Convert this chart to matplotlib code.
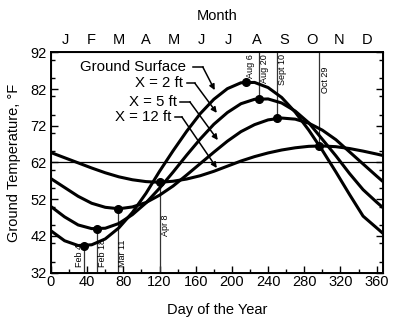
import matplotlib.pyplot as plt
from matplotlib.ticker import MultipleLocator

plt.rcParams['font.family'] = ['Liberation Sans', 'DejaVu Sans']

days = [0, 15, 30, 45, 60, 75, 90, 105, 120, 135, 150, 165, 180,
        195, 210, 225, 240, 255, 270, 285, 300, 315, 330, 345, 360, 367]

surface = [43.4, 40.7, 39.4, 39.6, 41.2, 44.2, 48.4, 53.6, 59.6, 65.2, 70.5, 75.3, 79.2,
           82.1, 83.7, 83.8, 82.4, 79.7, 75.7, 70.8, 65.3, 59.4, 53.3, 47.4, 44.2, 42.7]
x2ft = [50.0, 47.2, 45.0, 44.0, 44.1, 45.4, 47.8, 51.0, 55.0, 59.4, 64.0, 68.4, 72.4,
        75.6, 78.0, 79.2, 79.3, 78.2, 76.0, 72.8, 68.3, 63.8, 59.0, 54.6, 51.2, 49.7]
x5ft = [57.6, 55.2, 52.8, 50.9, 49.8, 49.4, 49.9, 51.1, 53.1, 55.6, 58.6, 61.7, 64.8,
        67.8, 70.4, 72.3, 73.6, 74.1, 73.8, 72.7, 70.8, 68.2, 64.9, 61.6, 58.3, 56.8]
x12ft = [64.7, 63.3, 61.9, 60.5, 59.2, 58.1, 57.3, 56.8, 56.6, 56.9, 57.5, 58.4, 59.6,
         61.0, 62.4, 63.6, 64.6, 65.4, 66.0, 66.4, 66.5, 66.3, 65.8, 65.1, 64.3, 63.9]

mean_temp = 62

# minimum / maximum points (day, temperature, label)
low_pts = [(36.8, 39.3, "Feb 4"), (51, 44.0, "Feb 18"), (73.6, 49.4, "Mar 11"), (121, 56.6, "Apr 8")]
high_pts = [(216, 83.9, "Aug 6"), (229.7, 79.4, "Aug 20"), (250, 74.1, "Sept 10"), (296, 66.4, "Oct 29")]

months = ["J", "F", "M", "A", "M", "J", "J", "A", "S", "O", "N", "D"]
month_mid = [15.5, 45, 74.5, 105, 135.5, 166, 196.5, 227.5, 258, 288.5, 319, 349.5]

fig = plt.figure(figsize=(4.06, 3.26), dpi=100)
ax = fig.add_axes([0.1256, 0.1635, 0.8177, 0.6761])

for ys in (surface, x2ft, x5ft, x12ft):
    ax.plot(days, ys, color="black", lw=2.2, solid_capstyle="round", zorder=3)

ax.axhline(mean_temp, color="black", lw=0.9, zorder=2)

# vertical markers
for d, t, lab in low_pts:
    ax.plot([d, d], [32, t], color="#333333", lw=0.9, zorder=2)
    ax.plot(d, t, "o", color="black", ms=5.5, zorder=4)
for d, t, lab in high_pts:
    if lab != "Aug 6":
        ax.plot([d, d], [t, 92], color="#333333", lw=0.9, zorder=2)
    ax.plot(d, t, "o", color="black", ms=5.5, zorder=4)

fs = 6.5
ax.text(31.5, 33.5, "Feb 4", rotation=90, fontsize=fs, ha="center", va="bottom")
ax.text(56.5, 33.5, "Feb 18", rotation=90, fontsize=fs, ha="center", va="bottom")
ax.text(78.5, 33.5, "Mar 11", rotation=90, fontsize=fs, ha="center", va="bottom")
ax.text(127, 42, "Apr 8", rotation=90, fontsize=fs, ha="center", va="bottom")
ax.text(221, 91.6, "Aug 6", rotation=90, fontsize=fs, ha="center", va="top")
ax.text(236, 91.6, "Aug 20", rotation=90, fontsize=fs, ha="center", va="top")
ax.text(255.5, 91.6, "Sept 10", rotation=90, fontsize=fs, ha="center", va="top")
ax.text(304, 88, "Oct 29", rotation=90, fontsize=fs, ha="center", va="top")

# curve labels with leader arrows
labels = [("Ground Surface", 149, 88.0, 156.8, 167.8, 181, 81.7),
          ("X = 2 ft", 145.8, 83.6, 150.2, 159, 183.3, 75.5),
          ("X = 5 ft", 139, 78.5, 142.4, 153.5, 184.4, 68.1),
          ("X = 12 ft", 133.6, 74.4, 137, 144.7, 183.3, 60.5)]
for txt, tx, ty, d0, d1, ax_, ay in labels:
    ax.text(tx, ty, txt, fontsize=10.8, ha="right", va="center")
    ax.plot([d0, d1], [ty, ty], color="black", lw=1.1)
    ax.annotate("", xy=(ax_, ay), xytext=(d1, ty),
                arrowprops=dict(arrowstyle="-|>", color="black", lw=1.1,
                                mutation_scale=8, shrinkA=0, shrinkB=0))

ax.set_xlim(0, 367)
ax.set_ylim(32, 92)
ax.xaxis.set_major_locator(MultipleLocator(40))
ax.xaxis.set_minor_locator(MultipleLocator(20))
ax.yaxis.set_minor_locator(MultipleLocator(5))
ax.set_yticks(range(32, 93, 10))
ax.tick_params(which="both", direction="in", top=True, right=True, labelsize=10.5)
ax.tick_params(axis="x", pad=2)
ax.tick_params(axis="y", pad=3)
ax.tick_params(which="major", length=5, width=1)
ax.tick_params(which="minor", length=3, width=1)
for s in ax.spines.values():
    s.set_linewidth(1.4)

ax.set_xlabel("Day of the Year", fontsize=10.5, labelpad=10)
ax.set_ylabel("Ground Temperature, °F", fontsize=10.5, labelpad=7)

top = ax.twiny()
top.set_xlim(ax.get_xlim())
top.set_xticks(month_mid)
top.set_xticklabels(months, fontsize=10.5)
top.tick_params(length=0, pad=4)
top.set_xlabel("Month", fontsize=10.5, labelpad=9)

fig.savefig("out.png", dpi=100)
